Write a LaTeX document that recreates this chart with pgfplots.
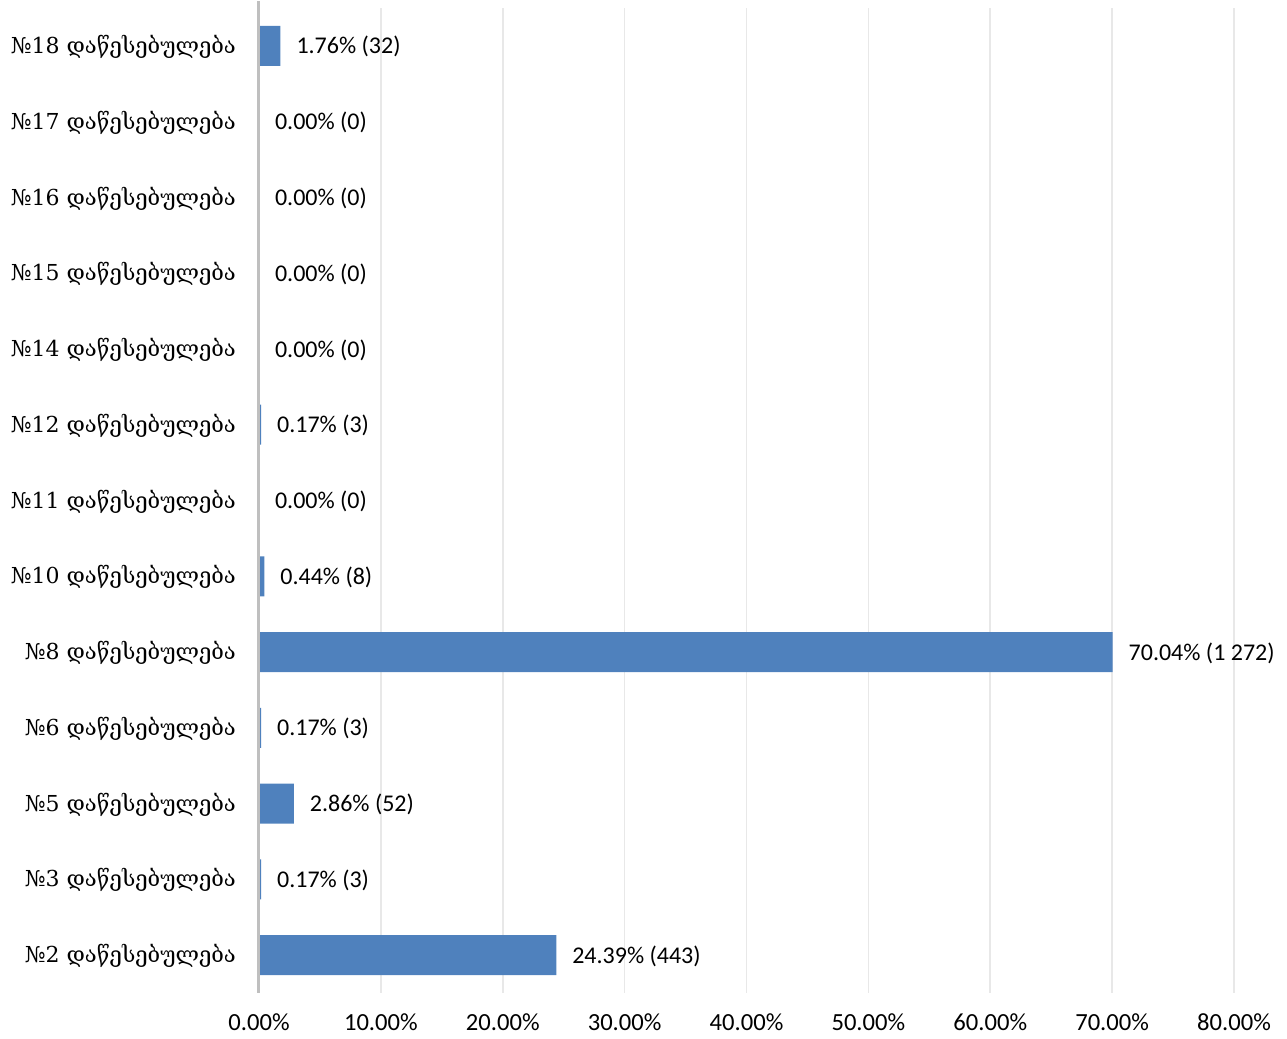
\documentclass[border=0pt]{standalone}
\usepackage{pgfplots}
\pgfplotsset{compat=1.18}
\usepackage{fontspec}
\setmainfont{Carlito}
\newfontfamily\geo{DejaVu Serif}
\definecolor{barblue}{HTML}{4F81BD}
\definecolor{gridgray}{HTML}{E8E8E8}
\definecolor{axisgray}{HTML}{BFBFBF}
\begin{document}
\begin{tikzpicture}
\begin{axis}[
  scale only axis, width=487.5pt, height=492.5pt,
  xbar, bar width=20pt,
  xmin=0, xmax=80, ymin=-0.5, ymax=12.5,
  xtick={0,10,...,80},
  xticklabel={\pgfmathprintnumber[fixed,fixed zerofill,precision=2]{\tick}\%},
  /pgf/number format/assume math mode=true,
  ytick={0,...,12},
  yticklabels={{№2 დაწესებულება},{№3 დაწესებულება},{№5 დაწესებულება},{№6 დაწესებულება},{№8 დაწესებულება\hspace{3pt}},{№10 დაწესებულება},{№11 დაწესებულება},{№12 დაწესებულება},{№14 დაწესებულება},{№15 დაწესებულება},{№16 დაწესებულება},{№17 დაწესებულება},{№18 დაწესებულება}},
  axis line style={draw=none},
  major tick length=0pt,
  xmajorgrids, grid style={gridgray, line width=0.8pt},
  xticklabel style={font=\fontsize{12.3}{14}\selectfont, anchor=north, yshift=-7pt},
  yticklabel style={font=\geo\fontsize{11}{13}\selectfont, anchor=east, xshift=-8pt, yshift=-0.5pt},
  point meta=explicit symbolic,
  nodes near coords={\pgfplotspointmeta},
  nodes near coords style={anchor=west, font=\fontsize{12}{14}\selectfont, xshift=4.5pt, yshift=-0.5pt, text=black},
  clip=false,
]
\addplot[draw=none, fill=barblue] coordinates {
  (24.39,0) [24.39\% (443)]
  (0.17,1) [0.17\% (3)]
  (2.86,2) [2.86\% (52)]
  (0.17,3) [0.17\% (3)]
  (70.04,4) [70.04\% (1 272)]
  (0.44,5) [0.44\% (8)]
  (0.00,6) [0.00\% (0)]
  (0.17,7) [0.17\% (3)]
  (0.00,8) [0.00\% (0)]
  (0.00,9) [0.00\% (0)]
  (0.00,10) [0.00\% (0)]
  (0.00,11) [0.00\% (0)]
  (1.76,12) [1.76\% (32)]
};
\draw[axisgray, line width=1.5pt] (rel axis cs:0,0) -- (rel axis cs:0,1.007);
\coordinate (sw) at (rel axis cs:0,0);
\coordinate (ne) at (rel axis cs:1,1);
\end{axis}
\pgfresetboundingbox
\path ([shift={(-129.5pt,-23pt)}]sw) rectangle ([shift={(26.5pt,4pt)}]ne);
\end{tikzpicture}
\end{document}
